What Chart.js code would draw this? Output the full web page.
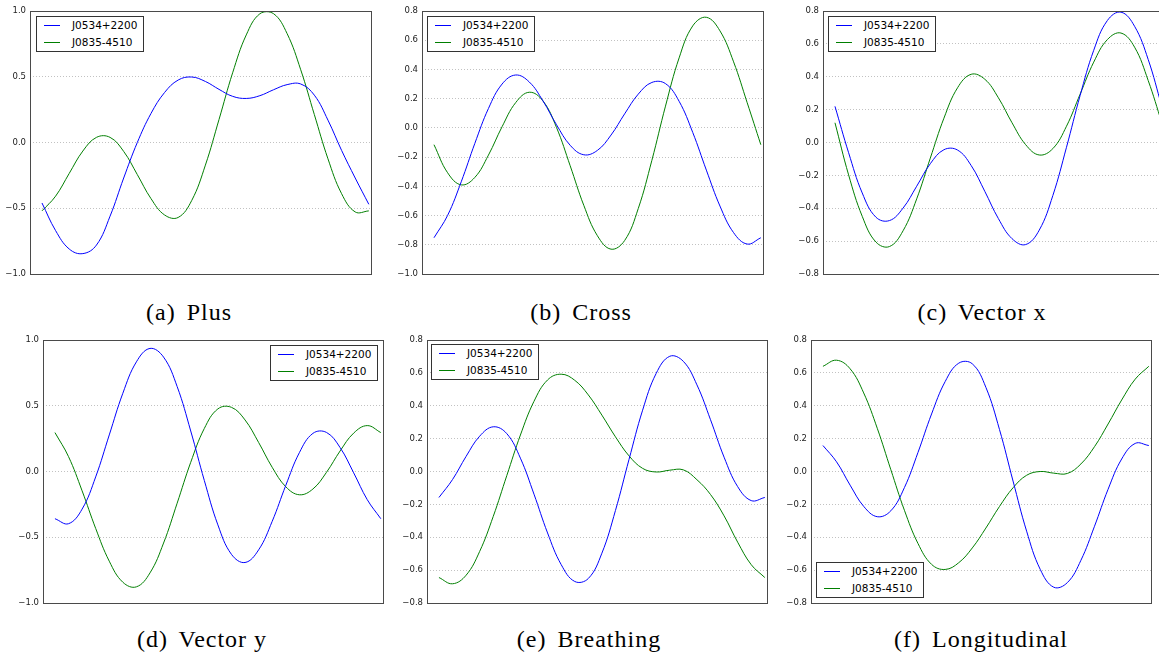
<!DOCTYPE html>
<html>
<head>
<meta charset="utf-8">
<script src="https://cdn.jsdelivr.net/npm/chart.js@4.4.1/dist/chart.umd.min.js"></script>
<style>
  html, body { margin: 0; padding: 0; background: #fff; width: 1159px; height: 657px; overflow: hidden; position: relative; }
  canvas { position: absolute; }
  .cap { position: absolute; font-family: "Liberation Serif", serif; font-size: 24px; line-height: 28px;
         letter-spacing: 1px; white-space: nowrap; color: #000; transform: translateX(-50%); }
  .cap .tag { margin-right: 4px; }
  .leg { position: absolute; background: #fff; border: 1px solid #333; box-sizing: border-box;
         width: 108px; height: 36px; font-family: "DejaVu Sans", sans-serif; font-size: 10.5px; color: #000; }
  .leg .sample { position: absolute; left: 7px; width: 16px; height: 0; border-top: 1px solid; }
  .leg .txt { position: absolute; left: 35px; line-height: 14px; white-space: nowrap; }
</style>
</head>
<body>
<script>
// Sidereal time of day (hours) at which each response is sampled
const hours = [0,1,2,3,4,5,6,7,8,9,10,11,12,13,14,15,16,17,18,19,20,21,22,23,24];

// Antenna-pattern responses per polarisation mode, for the two pulsars
const plusJ0534  = [-0.46,-0.67,-0.81,-0.845,-0.78,-0.56,-0.27,0.00,0.22,0.38,0.475,0.498,0.464,0.404,0.351,0.335,0.356,0.401,0.44,0.445,0.36,0.17,-0.06,-0.27,-0.47];
const plusJ0835  = [-0.52,-0.408,-0.235,-0.065,0.039,0.039,-0.068,-0.244,-0.426,-0.551,-0.57,-0.44,-0.172,0.175,0.53,0.818,0.979,0.98,0.828,0.553,0.212,-0.124,-0.389,-0.528,-0.52];

const crossJ0534 = [-0.752,-0.599,-0.369,-0.106,0.133,0.30,0.362,0.314,0.185,0.021,-0.119,-0.184,-0.154,-0.049,0.096,0.231,0.311,0.303,0.182,-0.031,-0.289,-0.535,-0.717,-0.795,-0.752];
const crossJ0835 = [-0.115,-0.307,-0.39,-0.339,-0.186,0.008,0.173,0.244,0.185,0.002,-0.259,-0.53,-0.738,-0.83,-0.771,-0.552,-0.222,0.149,0.479,0.698,0.757,0.664,0.452,0.172,-0.115];

const vectorXJ0534 = [0.22,-0.062,-0.307,-0.454,-0.475,-0.399,-0.266,-0.129,-0.044,-0.046,-0.14,-0.297,-0.463,-0.585,-0.621,-0.533,-0.322,-0.029,0.286,0.561,0.742,0.793,0.707,0.505,0.22];
const vectorXJ0835 = [0.12,-0.197,-0.449,-0.605,-0.633,-0.537,-0.343,-0.095,0.148,0.333,0.415,0.385,0.272,0.12,-0.013,-0.076,-0.037,0.099,0.294,0.489,0.626,0.666,0.58,0.377,0.12];

const vectorYJ0534 = [-0.359,-0.397,-0.286,-0.041,0.278,0.595,0.834,0.936,0.87,0.646,0.308,-0.068,-0.406,-0.63,-0.692,-0.596,-0.379,-0.106,0.143,0.29,0.297,0.182,-0.01,-0.214,-0.359];
const vectorYJ0835 = [0.296,0.113,-0.147,-0.433,-0.682,-0.842,-0.877,-0.771,-0.544,-0.241,0.07,0.327,0.476,0.488,0.392,0.221,0.032,-0.116,-0.177,-0.133,-0.006,0.156,0.292,0.349,0.296];

const breathingJ0534 = [-0.158,-0.049,0.092,0.215,0.272,0.23,0.081,-0.138,-0.374,-0.566,-0.669,-0.651,-0.497,-0.237,0.074,0.373,0.597,0.701,0.67,0.527,0.315,0.087,-0.092,-0.177,-0.158];
const breathingJ0835 = [-0.645,-0.683,-0.631,-0.486,-0.273,-0.024,0.222,0.427,0.557,0.592,0.555,0.466,0.343,0.211,0.095,0.019,-0.003,0.008,0.01,-0.05,-0.14,-0.27,-0.43,-0.567,-0.645];

const longitudinalJ0534 = [0.158,0.059,-0.083,-0.212,-0.275,-0.239,-0.098,0.116,0.35,0.547,0.659,0.655,0.512,0.256,-0.058,-0.363,-0.595,-0.704,-0.676,-0.54,-0.333,-0.108,0.076,0.171,0.158];
const longitudinalJ0835 = [0.64,0.677,0.625,0.478,0.263,0.011,-0.236,-0.438,-0.565,-0.596,-0.555,-0.465,-0.344,-0.213,-0.099,-0.023,0.0,-0.01,-0.012,0.046,0.151,0.289,0.435,0.562,0.64];

// y-axis tick values for each panel
const ticksHalf  = [-1.0,-0.5,0.0,0.5,1.0];
const ticksCross = [-1.0,-0.8,-0.6,-0.4,-0.2,0.0,0.2,0.4,0.6,0.8];
const ticksFifth = [-0.8,-0.6,-0.4,-0.2,0.0,0.2,0.4,0.6,0.8];

const pulsarNames = ['J0534+2200','J0835-4510'];
const lineColors  = ['#0000ff','#007f00'];

// Panel layout: plot-area rectangle on the page, legend corner, caption
const panels = [
  { tag: '(a)', name: 'Plus',         capX: 189, capY: 298, L: 30,  T: 11,  R: 371,  B: 274, ticks: ticksHalf,  series: [plusJ0534, plusJ0835],                 leg: [36, 16] },
  { tag: '(b)', name: 'Cross',        capX: 581, capY: 298, L: 422, T: 11,  R: 763,  B: 274, ticks: ticksCross, series: [crossJ0534, crossJ0835],               leg: [427, 16] },
  { tag: '(c)', name: 'Vector x',     capX: 982, capY: 298, L: 823, T: 11,  R: 1164, B: 274, ticks: ticksFifth, series: [vectorXJ0534, vectorXJ0835],           leg: [828, 16] },
  { tag: '(d)', name: 'Vector y',     capX: 202, capY: 625, L: 43,  T: 340, R: 383,  B: 603, ticks: ticksHalf,  series: [vectorYJ0534, vectorYJ0835],           leg: [270, 345] },
  { tag: '(e)', name: 'Breathing',    capX: 589, capY: 625, L: 427, T: 340, R: 767,  B: 603, ticks: ticksFifth, series: [breathingJ0534, breathingJ0835],       leg: [431, 344] },
  { tag: '(f)', name: 'Longitudinal', capX: 981, capY: 625, L: 811, T: 340, R: 1151, B: 603, ticks: ticksFifth, series: [longitudinalJ0534, longitudinalJ0835], leg: [816, 562] }
];

const AXIS_W = 40, PAD_R = 4, PAD_V = 12;

const fmtTick = v => {
  const s = Math.abs(v) < 1e-9 ? '0.0' : v.toFixed(1);
  return s.replace('-', '\u2212');
};

// Frame around the plot area
const framePlugin = {
  id: 'frame',
  afterDatasetsDraw(chart) {
    const { ctx, chartArea: a } = chart;
    ctx.save();
    ctx.strokeStyle = '#4a4a4a';
    ctx.lineWidth = 1;
    ctx.strokeRect(Math.round(a.left) + 0.5, Math.round(a.top) + 0.5,
                   Math.round(a.right - a.left), Math.round(a.bottom - a.top));
    ctx.restore();
  }
};

panels.forEach(p => {
  const cv = document.createElement('canvas');
  const w = (p.R - p.L) + AXIS_W + PAD_R;
  const h = (p.B - p.T) + 2 * PAD_V;
  cv.width = w; cv.height = h;
  cv.style.left = (p.L - AXIS_W) + 'px';
  cv.style.top = (p.T - PAD_V) + 'px';
  cv.style.width = w + 'px'; cv.style.height = h + 'px';
  document.body.appendChild(cv);

  const tk = p.ticks;
  const chart = new Chart(cv, {
    type: 'line',
    data: {
      datasets: p.series.map((vals, i) => ({
        label: pulsarNames[i],
        data: hours.map((t, k) => ({ x: t, y: vals[k] })),
        borderColor: lineColors[i],
        backgroundColor: lineColors[i],
        borderWidth: 1,
        pointRadius: 0,
        tension: 0.4,
        fill: false
      }))
    },
    options: {
      responsive: false,
      animation: false,
      devicePixelRatio: 1,
      layout: { padding: { left: 0, right: PAD_R, top: PAD_V, bottom: PAD_V } },
      plugins: { legend: { display: false }, tooltip: { enabled: false } },
      scales: {
        x: { type: 'linear', display: false, min: -0.88, max: 24.16 },
        y: {
          min: tk[0], max: tk[tk.length - 1],
          afterFit(s) { s.width = AXIS_W; },
          afterBuildTicks(s) { s.ticks = tk.map(v => ({ value: v })); },
          ticks: {
            padding: 4,
            color: '#222',
            font: { family: 'DejaVu Sans', size: 8.5 },
            callback: v => fmtTick(v)
          },
          grid: {
            drawTicks: false,
            lineWidth: 1,
            color: c => (c.index === 0 || c.index === tk.length - 1) ? 'rgba(0,0,0,0)' : '#c2c2c2'
          },
          border: { display: false, dash: [1, 2] }
        }
      }
    },
    plugins: [framePlugin]
  });

  // Legend box built from the chart's own legend items
  const items = Chart.defaults.plugins.legend.labels.generateLabels(chart);
  const box = document.createElement('div');
  box.className = 'leg';
  box.style.left = p.leg[0] + 'px';
  box.style.top = p.leg[1] + 'px';
  items.forEach((it, i) => {
    const cy = 8 + 17 * i;
    const s = document.createElement('div');
    s.className = 'sample';
    s.style.top = cy + 'px';
    s.style.borderColor = it.strokeStyle;
    const t = document.createElement('div');
    t.className = 'txt';
    t.style.top = (cy - 7) + 'px';
    t.textContent = it.text;
    box.appendChild(s); box.appendChild(t);
  });
  document.body.appendChild(box);

  // Sub-figure caption
  const cap = document.createElement('div');
  cap.className = 'cap';
  cap.style.left = p.capX + 'px';
  cap.style.top = p.capY + 'px';
  const tag = document.createElement('span');
  tag.className = 'tag';
  tag.textContent = p.tag;
  cap.appendChild(tag);
  cap.appendChild(document.createTextNode(' ' + p.name));
  document.body.appendChild(cap);
});
</script>
</body>
</html>
